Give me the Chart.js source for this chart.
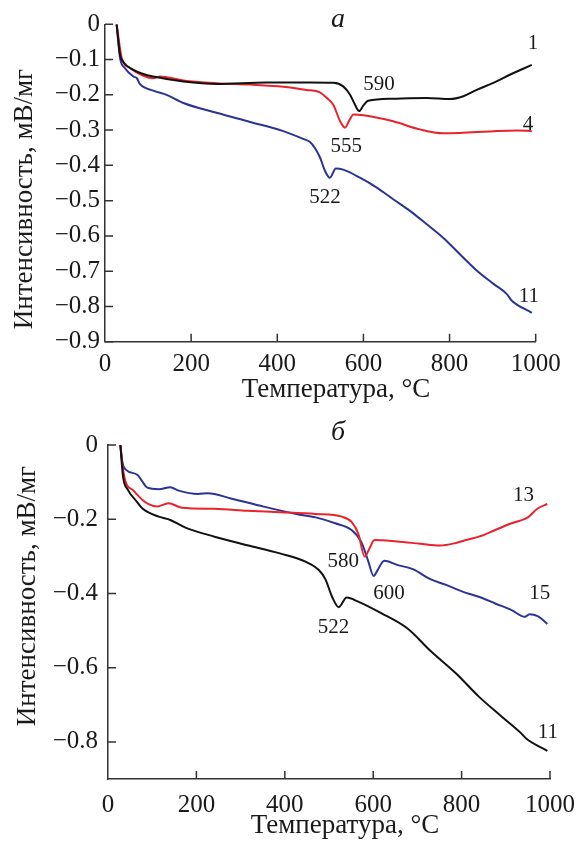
<!DOCTYPE html>
<html><head><meta charset="utf-8">
<script src="https://cdn.jsdelivr.net/npm/chart.js@4.4.1/dist/chart.umd.min.js"></script>
<style>
html,body{margin:0;padding:0;background:#fff;width:586px;height:842px;overflow:hidden}
.box{position:absolute;left:0;width:586px}
</style></head><body>
<div class="box" style="top:0;height:410px"><canvas id="c1" width="586" height="410"></canvas></div>
<div class="box" style="top:410px;height:432px"><canvas id="c2" width="586" height="432"></canvas></div>
<script>
// ---------- DATA ----------
const xTicks = [0, 200, 400, 600, 800, 1000];
const topYTicks = [0, -0.1, -0.2, -0.3, -0.4, -0.5, -0.6, -0.7, -0.8, -0.9];
const botYTicks = [0, -0.2, -0.4, -0.6, -0.8];

// Panel a
const topT1 = [27,35,42,66,89,112,182,259,375,476,530,553,569,580,590,600,611,669,747,801,832,863,909,940,971,991];
const topV1 = [0,-0.087,-0.106,-0.129,-0.141,-0.148,-0.162,-0.169,-0.165,-0.165,-0.166,-0.176,-0.2,-0.227,-0.246,-0.23,-0.217,-0.211,-0.209,-0.212,-0.204,-0.186,-0.162,-0.143,-0.126,-0.115];
const topT4 = [27,39,58,89,112,128,143,182,259,337,414,468,499,515,530,546,557,567,577,600,669,731,785,824,902,956,991];
const topV4 = [0,-0.096,-0.124,-0.146,-0.153,-0.148,-0.15,-0.159,-0.167,-0.171,-0.177,-0.186,-0.193,-0.209,-0.228,-0.275,-0.293,-0.273,-0.256,-0.258,-0.275,-0.298,-0.309,-0.308,-0.303,-0.301,-0.303];
const topT11 = [27,35,46,66,74,81,112,143,182,259,337,414,460,476,488,499,511,522,536,553,592,631,669,708,747,785,824,863,902,933,944,991];
const topV11 = [0,-0.096,-0.124,-0.148,-0.153,-0.169,-0.188,-0.2,-0.223,-0.251,-0.277,-0.303,-0.325,-0.334,-0.352,-0.377,-0.416,-0.435,-0.409,-0.412,-0.435,-0.463,-0.496,-0.529,-0.567,-0.605,-0.652,-0.698,-0.736,-0.765,-0.783,-0.818];

// Panel б
const botT11 = [28,34,45,64,78,115,141,174,241,315,389,448,477,492,507,522,540,566,618,677,728,787,839,891,935,946,994];
const botV11 = [0,-0.085,-0.121,-0.151,-0.171,-0.193,-0.202,-0.222,-0.247,-0.27,-0.292,-0.315,-0.337,-0.362,-0.409,-0.437,-0.411,-0.422,-0.453,-0.494,-0.553,-0.615,-0.678,-0.732,-0.777,-0.791,-0.824];
const botT13 = [28,33,41,56,78,93,111,137,167,241,315,389,470,529,551,566,581,590,603,654,706,751,787,810,839,876,913,950,972,994];
const botV13 = [0,-0.058,-0.103,-0.121,-0.148,-0.16,-0.166,-0.157,-0.169,-0.172,-0.177,-0.181,-0.186,-0.193,-0.207,-0.238,-0.301,-0.283,-0.256,-0.26,-0.266,-0.271,-0.264,-0.256,-0.247,-0.229,-0.211,-0.195,-0.171,-0.159];
const botT15 = [28,33,41,67,78,89,115,141,160,204,226,278,352,426,470,514,551,573,588,601,610,625,654,691,728,765,802,839,876,913,943,954,972,994];
const botV15 = [0,-0.049,-0.067,-0.081,-0.099,-0.115,-0.119,-0.114,-0.123,-0.132,-0.130,-0.144,-0.166,-0.186,-0.195,-0.211,-0.229,-0.261,-0.31,-0.353,-0.337,-0.312,-0.323,-0.335,-0.361,-0.377,-0.395,-0.409,-0.427,-0.445,-0.463,-0.456,-0.461,-0.482];

// annotations (text, T, value)
const topLabelText = ['1','4','590','555','522','11'];
const topLabelT = [994, 982, 636, 560, 511, 984];
const topLabelV = [-0.053, -0.284, -0.171, -0.347, -0.491, -0.773];
const botLabelText = ['13','580','600','15','522','11'];
const botLabelT = [940, 532, 636, 977, 510, 995];
const botLabelV = [-0.137, -0.315, -0.399, -0.399, -0.493, -0.774];

const yTitle = 'Интенсивность, мВ/мг';
const xTitle = 'Температура, °C';

// ---------- HELPERS ----------
const BLACK = '#111111', RED = '#e8232b', BLUE = '#2b3494';
const pts = (T, V) => T.map((t, i) => ({x: t, y: V[i]}));
const fmt = v => v === 0 ? '0' : '\u2212' + Math.abs(v).toFixed(1);
const SERIF = '"Liberation Serif", "DejaVu Serif", serif';

const inwardTicks = {
  id: 'inwardTicks',
  afterDraw(chart, args, o) {
    const {ctx, chartArea: a, scales: {x, y}} = chart;
    ctx.save();
    ctx.strokeStyle = o.color; ctx.lineWidth = o.width;
    ctx.beginPath();
    x.ticks.forEach(t => {
      if (t.value === x.min) return;
      const px = x.getPixelForValue(t.value);
      ctx.moveTo(px, a.bottom); ctx.lineTo(px, a.bottom - o.len);
    });
    y.ticks.forEach(t => {
      const py = y.getPixelForValue(t.value);
      ctx.moveTo(a.left, py); ctx.lineTo(a.left + o.len, py);
    });
    ctx.stroke();
    ctx.restore();
  }
};

const texts = {
  id: 'texts',
  afterDraw(chart, args, o) {
    const {ctx, scales: {x, y}} = chart;
    ctx.save();
    ctx.fillStyle = '#1a1a1a';
    ctx.textAlign = 'center'; ctx.textBaseline = 'middle';
    ctx.font = '21px ' + SERIF;
    o.text.forEach((s, i) => {
      ctx.fillText(s, x.getPixelForValue(o.tx[i]), y.getPixelForValue(o.ty[i]));
    });
    ctx.font = 'italic 28px ' + SERIF;
    ctx.fillText(o.panel, o.panelX, o.panelY);
    ctx.font = '27px ' + SERIF;
    ctx.fillText(xTitle, o.xtX, o.xtY);
    ctx.translate(o.ytX, o.ytY);
    ctx.rotate(-Math.PI / 2);
    ctx.fillText(yTitle, 0, 0);
    ctx.restore();
  }
};

function makeChart(id, sets, yTicks, lay) {
  return new Chart(document.getElementById(id), {
    type: 'line',
    data: {datasets: sets.map(s => ({
      data: pts(s.T, s.V), borderColor: s.c, borderWidth: 2,
      pointRadius: 0, fill: false, cubicInterpolationMode: 'monotone'
    }))},
    options: {
      responsive: false, animation: false, devicePixelRatio: 1,
      layout: {padding: {top: lay.top, right: lay.right, left: 0, bottom: 0}},
      plugins: {
        legend: {display: false}, tooltip: {enabled: false},
        inwardTicks: {color: '#333', width: 1.5, len: 8},
        texts: lay.texts
      },
      scales: {
        x: {
          type: 'linear', min: 0, max: 1000,
          afterBuildTicks: s => { s.ticks = xTicks.map(v => ({value: v})); },
          afterFit: s => { s.height = lay.xh; },
          grid: {display: true, drawOnChartArea: false, drawTicks: false},
          border: {display: true, color: '#333', width: 1.5},
          ticks: {padding: lay.xpad, color: '#1a1a1a', font: {family: SERIF, size: 25}, maxRotation: 0, autoSkip: false, callback: v => String(v)}
        },
        y: {
          type: 'linear', min: -0.9, max: 0,
          afterBuildTicks: s => { s.ticks = yTicks.map(v => ({value: v})); },
          afterFit: s => { s.width = lay.yw; },
          grid: {display: true, drawOnChartArea: false, drawTicks: false},
          border: {display: true, color: '#333', width: 1.5},
          ticks: {padding: lay.ypad, color: '#1a1a1a', font: {family: SERIF, size: 25}, autoSkip: false, callback: v => fmt(v)}
        }
      }
    },
    plugins: [inwardTicks, texts]
  });
}

makeChart('c1', [
  {T: topT1, V: topV1, c: BLACK},
  {T: topT4, V: topV4, c: RED},
  {T: topT11, V: topV11, c: BLUE}
], topYTicks, {
  top: 24.3, right: 50.3, xh: 68.3, yw: 105, xpad: 8, ypad: 5,
  texts: {text: topLabelText, tx: topLabelT, ty: topLabelV, panel: 'a', panelX: 338, panelY: 20,
          xtX: 336, xtY: 390, ytX: 25, ytY: 199}
});

makeChart('c2', [
  {T: botT11, V: botV11, c: BLACK},
  {T: botT13, V: botV13, c: RED},
  {T: botT15, V: botV15, c: BLUE}
], botYTicks, {
  top: 35, right: 26.7, xh: 63, yw: 108, xpad: 11, ypad: 10,
  texts: {text: botLabelText, tx: botLabelT, ty: botLabelV, panel: 'б', panelX: 338, panelY: 23,
          xtX: 345, xtY: 416, ytX: 28, ytY: 186}
});
</script>
</body></html>
